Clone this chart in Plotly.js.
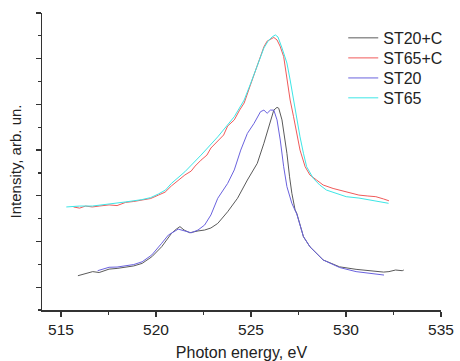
<!DOCTYPE html>
<html>
<head>
<meta charset="utf-8">
<script src="https://cdn.plot.ly/plotly-3.0.1.min.js"></script>
<style>html,body{margin:0;padding:0;background:#fff;}#chart{width:460px;height:361px;}</style>
</head>
<body>
<div id="chart"></div>
<script>
// ST20+C (black/grey)
const st20cE = [515.89,516.23,516.67,517.01,517.53,517.95,518.40,518.83,519.27,519.78,520.30,520.82,521.07,521.26,521.48,521.78,522.21,522.56,522.89,523.25,523.77,524.29,524.81,525.33,525.68,526.02,526.20,526.37,526.46,526.63,526.80,526.89,527.03,527.15,527.32,527.41,527.76,528.10,528.80,529.66,530.53,531.40,531.98,532.26,532.61,532.96,533.04];
const st20cI = [1.50,1.58,1.68,1.64,1.79,1.82,1.89,1.93,2.04,2.33,2.77,3.36,3.54,3.65,3.50,3.38,3.46,3.50,3.59,3.79,4.30,4.89,5.69,6.42,7.30,8.32,8.75,8.87,8.83,8.32,7.44,6.86,5.83,5.11,4.38,4.23,3.21,2.77,2.19,1.89,1.78,1.72,1.66,1.68,1.75,1.72,1.75];
// ST65+C (red)
const st65cE = [515.66,515.98,516.29,516.65,517.01,517.53,517.95,518.40,518.83,519.25,519.72,520.13,520.48,520.81,521.17,521.52,521.85,522.06,522.37,522.68,522.89,523.25,523.56,523.77,524.12,524.40,524.64,524.97,525.33,525.68,525.85,526.01,526.20,526.37,526.53,526.72,526.89,527.06,527.24,527.41,527.58,527.85,528.10,528.45,528.80,529.32,530.01,530.27,530.68,531.15,531.57,531.98,532.26];
const st65cI = [4.51,4.46,4.55,4.51,4.55,4.60,4.57,4.71,4.75,4.81,4.88,5.03,5.16,5.43,5.69,5.91,6.08,6.30,6.56,6.78,7.09,7.40,7.66,8.05,8.32,8.75,9.06,9.85,10.65,11.52,11.77,11.86,11.93,11.82,11.55,11.09,10.07,9.19,8.46,7.73,7.00,6.27,5.91,5.69,5.47,5.32,5.18,5.12,5.03,4.99,4.96,4.86,4.78];
// ST20 (blue)
const st20E = [516.93,517.27,517.53,517.95,518.40,518.83,519.27,519.78,520.30,520.65,521.17,521.52,521.85,522.21,522.56,522.89,523.25,523.77,524.12,524.46,524.81,525.16,525.50,525.68,525.85,526.02,526.20,526.37,526.54,526.72,526.89,527.15,527.32,527.41,527.76,528.10,528.80,529.66,530.53,531.40,532.00];
const st20I = [1.72,1.79,1.87,1.88,1.93,1.99,2.11,2.41,2.92,3.28,3.54,3.47,3.38,3.50,3.72,4.16,4.89,5.54,6.13,7.00,7.73,8.17,8.68,8.75,8.61,8.75,8.75,8.32,7.44,6.27,5.40,4.67,4.38,4.20,3.21,2.77,2.19,1.86,1.68,1.58,1.53];
// ST65 (cyan)
const st65E = [515.28,515.61,515.98,516.65,517.53,518.40,519.25,519.72,520.13,520.50,520.81,521.52,522.37,523.25,524.12,524.64,524.97,525.33,525.68,525.90,526.11,526.28,526.42,526.63,526.89,527.06,527.24,527.41,527.58,527.76,527.93,528.28,528.62,528.97,530.01,530.68,531.57,532.24];
const st65I = [4.51,4.53,4.55,4.55,4.63,4.73,4.83,4.92,5.08,5.25,5.54,6.05,6.78,7.58,8.46,9.19,9.89,10.68,11.47,11.77,11.95,12.04,11.95,11.47,10.81,10.07,9.19,8.32,7.58,6.86,6.27,5.76,5.47,5.25,4.96,4.90,4.78,4.67];

const names = ['ST20+C','ST65+C','ST20','ST65'];
const xTickVals = [515,520,525,530,535];

const FONT = 'Arial, "Liberation Sans", sans-serif';

const traces = [
  {x: st20cE, y: st20cI, name: names[0], legend: 'legend',  line: {color: '#5a5a5a', width: 1}},
  {x: st65cE, y: st65cI, name: names[1], legend: 'legend2', line: {color: '#f05a5a', width: 1}},
  {x: st20E,  y: st20I,  name: names[2], legend: 'legend3', line: {color: '#6a62de', width: 1}},
  {x: st65E,  y: st65I,  name: names[3], legend: 'legend4', line: {color: '#3de6e6', width: 1}}
].map(t => Object.assign({type: 'scatter', mode: 'lines', showlegend: true}, t));

function leg(y) {
  return {x: 0.755, xanchor: 'left', y: y, yanchor: 'middle', bgcolor: 'rgba(0,0,0,0)',
          borderwidth: 0, font: {family: FONT, size: 16, color: '#222'}};
}

const layout = {
  width: 460, height: 361,
  margin: {l: 42, r: 14, t: 13, b: 51},
  paper_bgcolor: '#fff', plot_bgcolor: '#fff',
  font: {family: FONT, color: '#222'},
  xaxis: {
    range: [514, 535], tickmode: 'array', tickvals: xTickVals,
    ticks: 'outside', ticklen: 5, tickwidth: 1.2, tickcolor: '#333',
    minor: {tickmode: 'linear', tick0: 515, dtick: 2.5, ticks: 'outside', ticklen: 3, tickcolor: '#333', tickwidth: 1.2},
    showline: true, linecolor: '#333', linewidth: 1.5, showgrid: false, zeroline: false,
    tickfont: {family: FONT, size: 15.5, color: '#222'},
    title: {text: 'Photon energy, eV', font: {family: FONT, size: 16, color: '#222'}, standoff: 17}
  },
  yaxis: {
    range: [0, 13], tickmode: 'linear', tick0: 1, dtick: 2,
    ticks: 'outside', ticklen: 5, tickwidth: 1.2, tickcolor: '#333', showticklabels: false,
    minor: {tickmode: 'linear', tick0: 0, dtick: 1, ticks: 'outside', ticklen: 3, tickcolor: '#333', tickwidth: 1.2},
    showline: true, linecolor: '#333', linewidth: 1.5, showgrid: false, zeroline: false,
    title: {text: 'Intensity, arb. un.', font: {family: FONT, size: 15, color: '#222'}, standoff: 10}
  },
  legend: leg(0.916), legend2: leg(0.8485), legend3: leg(0.781), legend4: leg(0.714),
  showlegend: true
};

Plotly.newPlot('chart', traces, layout, {displayModeBar: false, staticPlot: true});
</script>
</body>
</html>
